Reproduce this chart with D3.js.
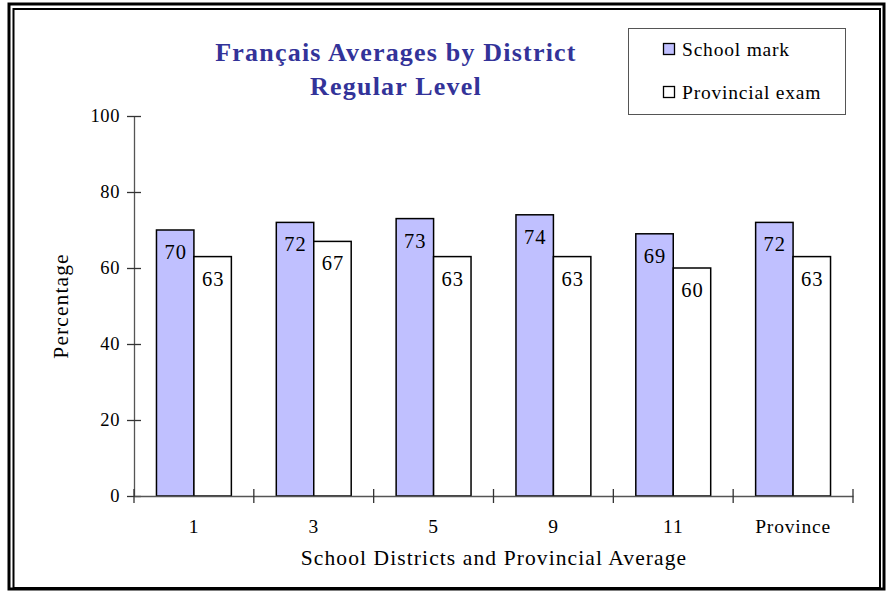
<!DOCTYPE html>
<html><head><meta charset="utf-8">
<script src="https://cdn.jsdelivr.net/npm/d3@7/dist/d3.min.js"></script>
<style>body{margin:0;background:#fff}svg{display:block}svg text{font-family:"Liberation Serif","Times New Roman",serif !important}</style>
</head><body>
<script>
const categories = ["1", "3", "5", "9", "11", "Province"];
const schoolMark = [70, 72, 73, 74, 69, 72];
const provincialExam = [63, 67, 63, 63, 60, 63];
const seriesNames = ["School mark", "Provincial exam"];
const yTicks = [0, 20, 40, 60, 80, 100];

(function () {
const W = 886, H = 592;
const FS = 19.5, LS = 0.8;
const svg = d3.select("body").append("svg").attr("width", W).attr("height", H);

// frame
svg.append("rect").attr("x", 9).attr("y", 4).attr("width", 875).attr("height", 585)
  .attr("fill", "none").attr("stroke", "#000").attr("stroke-width", 3);
svg.append("rect").attr("x", 13.5).attr("y", 9).attr("width", 866.5).attr("height", 579)
  .attr("fill", "none").attr("stroke", "#000").attr("stroke-width", 2);

const mLeft = 134, mRight = 853, mTop = 116, mBottom = 496;
const x = d3.scaleBand().domain(categories).range([mLeft, mRight]).paddingInner(0).paddingOuter(0);
const y = d3.scaleLinear().domain([0, 100]).range([mBottom, mTop]);
const inner = d3.scaleBand().domain(seriesNames).range([0, x.bandwidth()]).paddingInner(0).paddingOuter(0.6);

const colors = ["#c0c0ff", "#ffffff"];
const data = categories.map((c, i) => ({c, vals: [schoolMark[i], provincialExam[i]]}));

const g = svg.append("g");
data.forEach(d => {
  d.vals.forEach((v, k) => {
    const bx = x(d.c) + inner(seriesNames[k]);
    g.append("rect").attr("x", bx).attr("y", y(v)).attr("width", inner.bandwidth()).attr("height", y(0) - y(v))
      .attr("fill", colors[k]).attr("stroke", "#000").attr("stroke-width", 1.5);
    g.append("text").attr("x", bx + inner.bandwidth() / 2 + 0.5).attr("y", y(v) + 29)
      .attr("text-anchor", "middle").attr("font-size", 20.5).attr("letter-spacing", 1).text(v);
  });
});

// y axis
const yAxis = d3.axisLeft(y).tickValues(yTicks).tickSize(0).tickPadding(14);
const ya = svg.append("g").attr("transform", `translate(${mLeft},0)`).call(yAxis);
ya.select(".domain").attr("stroke", "#555").attr("stroke-width", 1.3);
ya.selectAll(".tick text").attr("font-size", 18.5).attr("letter-spacing", 0.6).attr("fill", "#000");
ya.selectAll(".tick").append("line").attr("x1", -7).attr("x2", 7).attr("stroke", "#333").attr("stroke-width", 1.3);

// x axis
const xAxis = d3.axisBottom(x).tickSize(0).tickPadding(23);
const xa = svg.append("g").attr("transform", `translate(0,${mBottom})`).call(xAxis);
xa.select(".domain").attr("stroke", "#555").attr("stroke-width", 1.3);
xa.selectAll(".tick text").attr("font-size", FS).attr("letter-spacing", LS).attr("fill", "#000");
const xBounds = categories.map(c => x(c)).concat([x(categories[categories.length - 1]) + x.bandwidth()]);
xa.selectAll(".sep").data(xBounds).enter().append("line").attr("class", "sep")
  .attr("x1", d => d).attr("x2", d => d).attr("y1", -7).attr("y2", 7).attr("stroke", "#333").attr("stroke-width", 1.3);

// axis titles
svg.append("text").attr("x", 494).attr("y", 565).attr("text-anchor", "middle").attr("font-size", 21.5)
  .attr("letter-spacing", 1.1).text("School Districts and Provincial Average");
svg.append("text").attr("transform", "translate(68,306) rotate(-90)").attr("text-anchor", "middle").attr("font-size", 21.5)
  .attr("letter-spacing", 1.1).text("Percentage");

// title
svg.append("text").attr("x", 396).attr("y", 61).attr("text-anchor", "middle").attr("font-size", 26).attr("font-weight", "bold")
  .attr("fill", "#333399").attr("letter-spacing", 1.2).text("Français Averages by District");
svg.append("text").attr("x", 396).attr("y", 95).attr("text-anchor", "middle").attr("font-size", 26).attr("font-weight", "bold")
  .attr("fill", "#333399").attr("letter-spacing", 1.2).text("Regular Level");

// legend
svg.append("rect").attr("x", 628.5).attr("y", 28.5).attr("width", 217).attr("height", 86)
  .attr("fill", "#fff").attr("stroke", "#555").attr("stroke-width", 1);
const legY = [50, 93];
seriesNames.forEach((n, k) => {
  svg.append("rect").attr("x", 663.5).attr("y", legY[k] - 6.5).attr("width", 11).attr("height", 11)
    .attr("fill", colors[k]).attr("stroke", "#000").attr("stroke-width", 1.3);
  svg.append("text").attr("x", 682).attr("y", legY[k] + 6).attr("font-size", FS).attr("letter-spacing", LS).text(n);
});
})();
</script>
</body></html>
